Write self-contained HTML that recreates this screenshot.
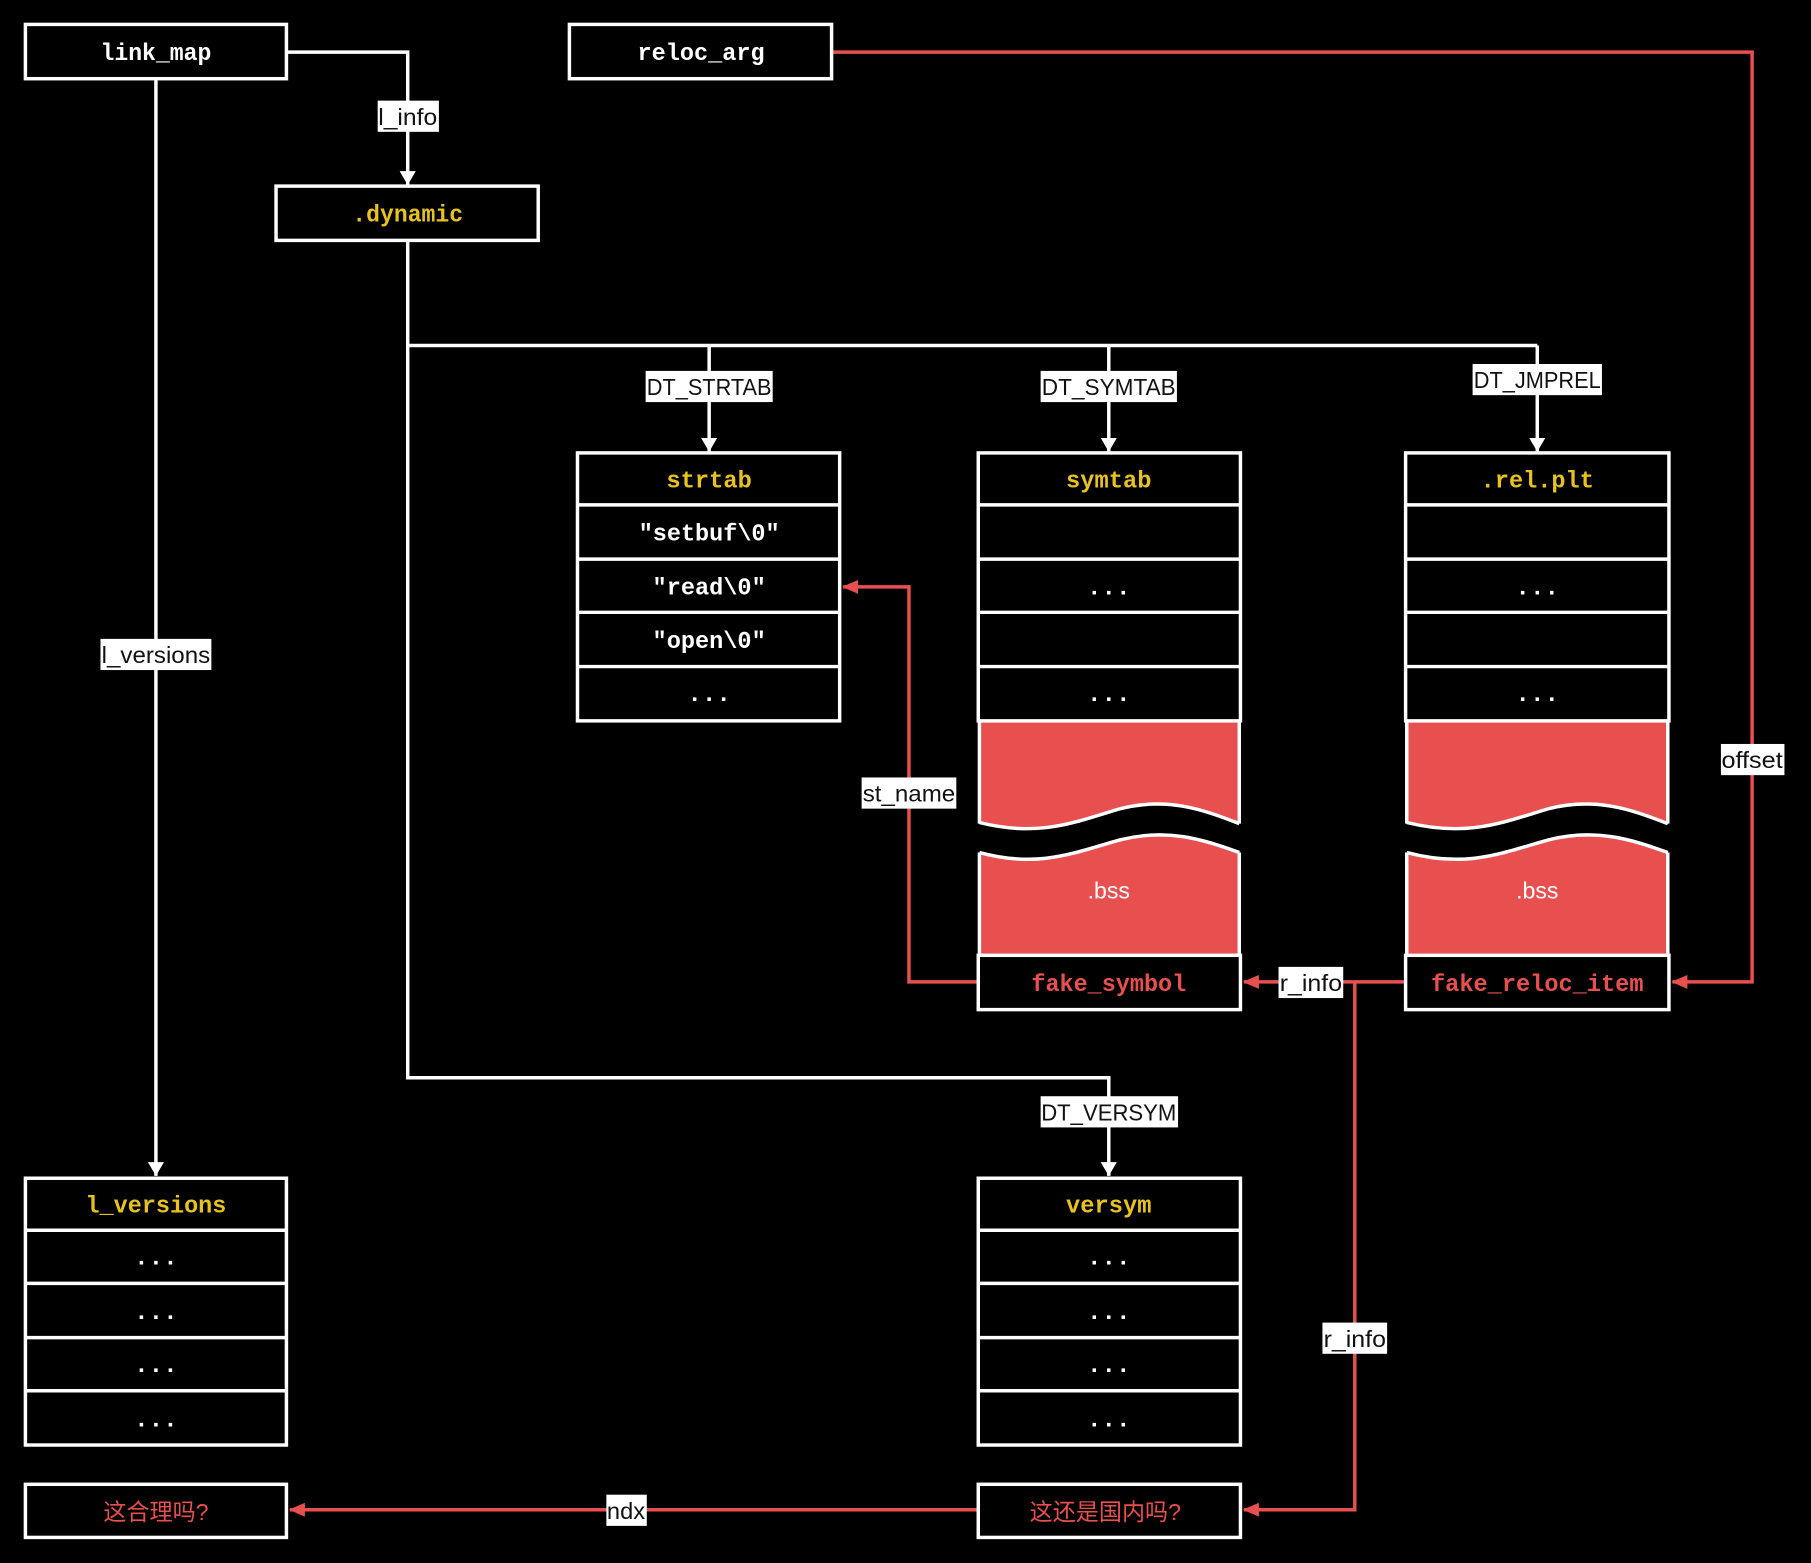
<!DOCTYPE html>
<html><head><meta charset="utf-8"><style>
html,body{margin:0;padding:0;background:#000;}
svg{display:block}
.m{font-family:"Liberation Mono",monospace;font-size:21px;font-weight:600;text-anchor:middle;dominant-baseline:central;transform-box:fill-box;}
.w{fill:#fff}.y{fill:#e8c21e}.r{fill:#e85050}
.l{font-family:"Liberation Sans",sans-serif;font-size:20px;fill:#111;text-anchor:middle;dominant-baseline:central}
.c{font-family:"Liberation Sans","Noto Sans CJK SC",sans-serif;font-size:20px;fill:#e85050;text-anchor:middle;dominant-baseline:central}
</style></head><body>
<svg width="1811" height="1563" viewBox="0 0 1568 1353" xmlns="http://www.w3.org/2000/svg">
<rect width="1568" height="1353" fill="#000"/>
<defs>
<marker id="aw" markerWidth="12" markerHeight="14" refX="12" refY="7" orient="auto" markerUnits="userSpaceOnUse"><path d="M0,0 L12,7 L0,14 z" fill="#fff"/></marker>
<marker id="ar" markerWidth="14" markerHeight="12" refX="13" refY="6" orient="auto" markerUnits="userSpaceOnUse"><path d="M0,0 L14,6 L0,12 z" fill="#e85050"/></marker>
</defs>
<g fill="none" stroke="#fff" stroke-width="3">
<polyline points="248,45 353,45 353,160" marker-end="url(#aw)"/>
<polyline points="135,68 135,1018" marker-end="url(#aw)"/>
<polyline points="353,208 353,933 960,933 960,1018" marker-end="url(#aw)"/>
<polyline points="353,299 1331,299"/>
<polyline points="614,299 614,391" marker-end="url(#aw)"/>
<polyline points="960,299 960,391" marker-end="url(#aw)"/>
<polyline points="1331,299 1331,391" marker-end="url(#aw)"/>
</g>
<g fill="none" stroke="#e85050" stroke-width="3">
<polyline points="720,45 1517,45 1517,850 1448,850" marker-end="url(#ar)"/>
<polyline points="1217,850 1077,850" marker-end="url(#ar)"/>
<polyline points="1173,850 1173,1307 1077,1307" marker-end="url(#ar)"/>
<polyline points="847,850 787,850 787,508 730,508" marker-end="url(#ar)"/>
<polyline points="847,1307 251,1307" marker-end="url(#ar)"/>
</g>
<g stroke="#fff" stroke-width="3">
<path d="M848,624 L1073,624 L1073,713 C1040,700 1010,690 970,700 C930,712 900,725 848,712 Z" fill="#e85050" stroke="none"/>
<path d="M848,712 C900,725 930,712 970,700 C1010,690 1040,700 1073,713" fill="none"/>
<path d="M848,738 C900,752 930,738 970,727 C1010,717 1040,726 1073,738 L1073,827 L848,827 Z" fill="#e85050" stroke="none"/>
<path d="M848,738 C900,752 930,738 970,727 C1010,717 1040,726 1073,738" fill="none"/>
<line x1="848" y1="624" x2="848" y2="713"/><line x1="1073" y1="624" x2="1073" y2="713"/>
<line x1="848" y1="738" x2="848" y2="827"/><line x1="1073" y1="738" x2="1073" y2="827"/>
<path d="M1218,624 L1444,624 L1444,713 C1411,700 1381,690 1341,700 C1301,712 1271,725 1218,712 Z" fill="#e85050" stroke="none"/>
<path d="M1218,712 C1271,725 1301,712 1341,700 C1381,690 1411,700 1444,713" fill="none"/>
<path d="M1218,738 C1271,752 1301,738 1341,727 C1381,717 1411,726 1444,738 L1444,827 L1218,827 Z" fill="#e85050" stroke="none"/>
<path d="M1218,738 C1271,752 1301,738 1341,727 C1381,717 1411,726 1444,738" fill="none"/>
<line x1="1218" y1="624" x2="1218" y2="713"/><line x1="1444" y1="624" x2="1444" y2="713"/>
<line x1="1218" y1="738" x2="1218" y2="827"/><line x1="1444" y1="738" x2="1444" y2="827"/>
</g>
<g fill="none" stroke="#fff" stroke-width="3">
<rect x="22" y="21" width="226" height="47"/>
<rect x="493" y="21" width="227" height="47"/>
<rect x="239" y="161" width="227" height="47"/>
<rect x="500" y="392" width="227" height="232"/>
<line x1="500" y1="437" x2="727" y2="437"/><line x1="500" y1="484" x2="727" y2="484"/><line x1="500" y1="530" x2="727" y2="530"/><line x1="500" y1="577" x2="727" y2="577"/>
<rect x="847" y="392" width="227" height="232"/>
<line x1="847" y1="437" x2="1074" y2="437"/><line x1="847" y1="484" x2="1074" y2="484"/><line x1="847" y1="530" x2="1074" y2="530"/><line x1="847" y1="577" x2="1074" y2="577"/>
<rect x="847" y="827" width="227" height="47"/>
<rect x="1217" y="392" width="228" height="232"/>
<line x1="1217" y1="437" x2="1445" y2="437"/><line x1="1217" y1="484" x2="1445" y2="484"/><line x1="1217" y1="530" x2="1445" y2="530"/><line x1="1217" y1="577" x2="1445" y2="577"/>
<rect x="1217" y="827" width="228" height="47"/>
<rect x="22" y="1020" width="226" height="231"/>
<line x1="22" y1="1065" x2="248" y2="1065"/><line x1="22" y1="1111" x2="248" y2="1111"/><line x1="22" y1="1158" x2="248" y2="1158"/><line x1="22" y1="1204" x2="248" y2="1204"/>
<rect x="847" y="1020" width="227" height="231"/>
<line x1="847" y1="1065" x2="1074" y2="1065"/><line x1="847" y1="1111" x2="1074" y2="1111"/><line x1="847" y1="1158" x2="1074" y2="1158"/><line x1="847" y1="1204" x2="1074" y2="1204"/>
<rect x="22" y="1285" width="226" height="46"/>
<rect x="847" y="1285" width="227" height="46"/>
</g>
<g class="mono">
<text class="m w" x="135" y="47" textLength="96" lengthAdjust="spacingAndGlyphs">link_map</text>
<text class="m w" x="607" y="47" textLength="110" lengthAdjust="spacingAndGlyphs">reloc_arg</text>
<text class="m y" x="353" y="187" textLength="96" lengthAdjust="spacingAndGlyphs">.dynamic</text>
<text class="m y" x="614" y="417" textLength="74" lengthAdjust="spacingAndGlyphs">strtab</text>
<text class="m w" x="614" y="463" textLength="122" lengthAdjust="spacingAndGlyphs">"setbuf\0"</text>
<text class="m w" x="614" y="510" textLength="98" lengthAdjust="spacingAndGlyphs">"read\0"</text>
<text class="m w" x="614" y="556" textLength="98" lengthAdjust="spacingAndGlyphs">"open\0"</text>
<text class="m w" x="614" y="602">...</text>
<text class="m y" x="960" y="417" textLength="74" lengthAdjust="spacingAndGlyphs">symtab</text>
<text class="m w" x="960" y="510">...</text>
<text class="m w" x="960" y="602">...</text>
<text class="l" x="960" y="771" style="fill:#fff">.bss</text>
<text class="m r" x="960" y="853" textLength="134" lengthAdjust="spacingAndGlyphs">fake_symbol</text>
<text class="m y" x="1331" y="417" textLength="98" lengthAdjust="spacingAndGlyphs">.rel.plt</text>
<text class="m w" x="1331" y="510">...</text>
<text class="m w" x="1331" y="602">...</text>
<text class="l" x="1331" y="771" style="fill:#fff">.bss</text>
<text class="m r" x="1331" y="853" textLength="184" lengthAdjust="spacingAndGlyphs">fake_reloc_item</text>
<text class="m y" x="135" y="1045" textLength="122" lengthAdjust="spacingAndGlyphs">l_versions</text>
<text class="m w" x="135" y="1090">...</text>
<text class="m w" x="135" y="1137">...</text>
<text class="m w" x="135" y="1183">...</text>
<text class="m w" x="135" y="1230">...</text>
<text class="m y" x="960" y="1045" textLength="74" lengthAdjust="spacingAndGlyphs">versym</text>
<text class="m w" x="960" y="1090">...</text>
<text class="m w" x="960" y="1137">...</text>
<text class="m w" x="960" y="1183">...</text>
<text class="m w" x="960" y="1230">...</text>
</g>
<text class="c" x="135" y="1309">这合理吗?</text>
<text class="c" x="957" y="1309">这还是国内吗?</text>
<g fill="#fff">
<rect x="327" y="87" width="53" height="27"/>
<rect x="559" y="321" width="110" height="27"/>
<rect x="901" y="321" width="118" height="27"/>
<rect x="1275" y="315" width="112" height="27"/>
<rect x="87" y="553" width="96" height="27"/>
<rect x="746" y="673" width="82" height="27"/>
<rect x="1490" y="644" width="55" height="27"/>
<rect x="1107" y="837" width="56" height="27"/>
<rect x="901" y="949" width="119" height="27"/>
<rect x="1145" y="1145" width="56" height="27"/>
<rect x="525" y="1294" width="35" height="27"/>
</g>
<text class="l" x="353" y="101" textLength="51" lengthAdjust="spacingAndGlyphs">l_info</text>
<text class="l" x="614" y="335" textLength="108" lengthAdjust="spacingAndGlyphs">DT_STRTAB</text>
<text class="l" x="960" y="335" textLength="116" lengthAdjust="spacingAndGlyphs">DT_SYMTAB</text>
<text class="l" x="1331" y="329" textLength="110" lengthAdjust="spacingAndGlyphs">DT_JMPREL</text>
<text class="l" x="135" y="567" textLength="94" lengthAdjust="spacingAndGlyphs">l_versions</text>
<text class="l" x="787" y="687" textLength="80" lengthAdjust="spacingAndGlyphs">st_name</text>
<text class="l" x="1517" y="658" textLength="53" lengthAdjust="spacingAndGlyphs">offset</text>
<text class="l" x="1135" y="851" textLength="54" lengthAdjust="spacingAndGlyphs">r_info</text>
<text class="l" x="960" y="963" textLength="117" lengthAdjust="spacingAndGlyphs">DT_VERSYM</text>
<text class="l" x="1173" y="1159" textLength="54" lengthAdjust="spacingAndGlyphs">r_info</text>
<text class="l" x="542" y="1308" textLength="33" lengthAdjust="spacingAndGlyphs">ndx</text>
</svg>
</body></html>
